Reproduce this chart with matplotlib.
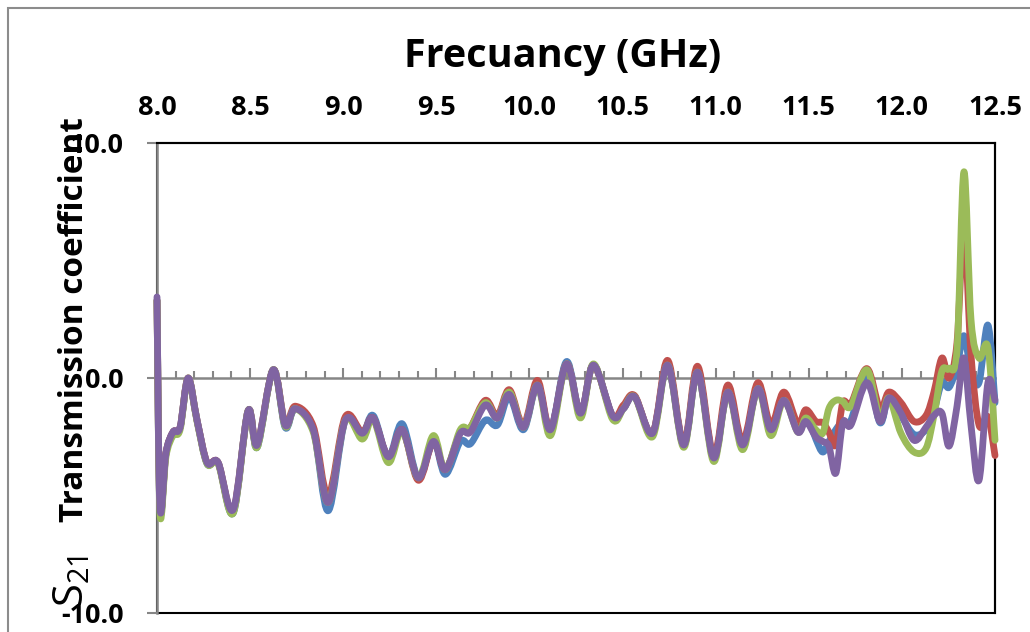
import numpy as np
import matplotlib
matplotlib.use("Agg")
import matplotlib.pyplot as plt
from matplotlib.path import Path
from matplotlib.patches import PathPatch, Rectangle
from matplotlib.ticker import MultipleLocator

plt.rcParams["font.family"] = ["Open Sans", "DejaVu Sans"]

# frequency points (GHz)
freq = [8.000, 8.016, 8.048, 8.086, 8.124, 8.167, 8.215, 8.269, 8.328, 8.409,
        8.489, 8.538, 8.624, 8.688, 8.742, 8.839, 8.919, 9.011, 9.102, 9.161,
        9.242, 9.317, 9.403, 9.484, 9.548, 9.629, 9.683, 9.763, 9.828, 9.892,
        9.968, 10.043, 10.113, 10.199, 10.274, 10.344, 10.446, 10.505, 10.565, 10.661,
        10.742, 10.828, 10.903, 10.989, 11.065, 11.145, 11.226, 11.296, 11.366, 11.441,
        11.484, 11.538, 11.575, 11.608, 11.645, 11.683, 11.726, 11.812, 11.882, 11.930,
        11.995, 12.065, 12.129, 12.172, 12.215, 12.253, 12.296, 12.333, 12.371, 12.414,
        12.462, 12.500]

s21_blue = [3.3, -5.6, -3.2, -2.3, -2.1, -0.05, -1.8, -3.65, -3.6, -5.75,
            -1.4, -2.95, 0.35, -2.1, -1.3, -2.2, -5.65, -1.8, -2.35, -1.6,
            -3.35, -1.95, -4.25, -2.7, -4.1, -2.7, -2.8, -1.8, -2.0, -0.8,
            -2.2, -0.3, -2.2, 0.7, -1.5, 0.55, -1.6, -1.3, -0.8, -2.35,
            0.55, -2.85, 0.25, -3.4, -0.6, -2.85, -0.45, -2.2, -0.7, -2.1,
            -1.5, -2.6, -3.15, -2.7, -2.2, -1.85, -1.8, 0.2, -1.9, -0.8,
            -1.6, -2.4, -2.2, -1.4, -0.2, -0.4, 0.5, 1.8, 0.3, -0.2,
            2.25, -1.05]

s21_red = [3.3, -5.5, -3.2, -2.3, -2.1, 0.0, -1.8, -3.6, -3.6, -5.65,
           -1.4, -2.85, 0.35, -1.95, -1.2, -2.05, -5.0, -1.65, -2.3, -1.7,
           -3.35, -2.2, -4.35, -2.7, -3.9, -2.3, -2.1, -0.95, -1.6, -0.5,
           -2.0, -0.1, -2.2, 0.6, -1.5, 0.55, -1.6, -1.15, -0.75, -2.35,
           0.75, -2.8, 0.5, -3.3, -0.3, -2.7, -0.2, -2.0, -0.6, -1.95,
           -1.35, -1.85, -1.9, -2.3, -2.85, -1.05, -1.1, 0.4, -1.3, -0.6,
           -1.05, -1.85, -1.6, -0.6, 0.85, 0.0, 1.5, 6.4, 1.0, -2.0,
           -1.65, -3.3]

s21_green = [3.3, -5.75, -3.35, -2.45, -2.2, 0.0, -1.85, -3.65, -3.65, -5.75,
             -1.4, -2.95, 0.35, -2.05, -1.3, -2.3, -5.3, -1.8, -2.6, -1.75,
             -3.6, -2.25, -4.25, -2.45, -3.9, -2.2, -2.1, -1.05, -1.7, -0.6,
             -2.1, -0.3, -2.45, 0.6, -1.7, 0.6, -1.75, -1.3, -0.8, -2.5,
             0.55, -2.95, 0.25, -3.55, -0.6, -3.05, -0.45, -2.45, -0.95, -2.3,
             -1.7, -2.2, -2.35, -1.3, -0.95, -1.0, -1.2, 0.35, -1.7, -0.85,
             -2.35, -3.15, -3.0, -1.6, 0.3, 0.4, 1.2, 8.77, 2.5, 0.85,
             1.3, -2.65]

s21_purple = [3.45, -5.5, -3.2, -2.3, -2.1, 0.0, -1.8, -3.6, -3.6, -5.6,
              -1.4, -2.85, 0.35, -2.0, -1.3, -2.2, -5.3, -1.8, -2.35, -1.7,
              -3.35, -2.2, -4.25, -2.7, -3.9, -2.35, -2.3, -1.15, -1.7, -0.7,
              -2.1, -0.3, -2.2, 0.6, -1.5, 0.55, -1.6, -1.3, -0.8, -2.35,
              0.55, -2.85, 0.25, -3.4, -0.6, -2.85, -0.45, -2.2, -0.95, -2.3,
              -1.85, -2.5, -2.7, -2.9, -4.05, -1.9, -2.0, -0.2, -1.85, -0.85,
              -1.5, -2.65, -2.1, -1.6, -1.5, -2.9, -1.2, 0.85, -2.0, -4.35,
              -0.2, -0.95]

series = [s21_blue, s21_red, s21_green, s21_purple]
colors = ["#4F81BD", "#C0504D", "#9BBB59", "#8064A2"]

x_ticks = [8.0, 8.5, 9.0, 9.5, 10.0, 10.5, 11.0, 11.5, 12.0, 12.5]
y_ticks = [-10, 0, 10]


def smooth_path(x, y):
    # excel style smoothed line (cubic bezier through every point)
    pts = np.column_stack([x, y])
    n = len(pts)
    verts = [pts[0]]
    codes = [Path.MOVETO]
    for i in range(n - 1):
        p0 = pts[i - 1] if i > 0 else pts[i]
        p1 = pts[i]
        p2 = pts[i + 1]
        p3 = pts[i + 2] if i + 2 < n else pts[i + 1]
        verts += [p1 + (p2 - p0) / 6, p2 - (p3 - p1) / 6, p2]
        codes += [Path.CURVE4] * 3
    return Path(verts, codes)


fig = plt.figure(figsize=(10.3, 6.32), dpi=100)
ax = fig.add_axes([157 / 1030, 19 / 632, 838 / 1030, 470 / 632])

for vals, c in zip(series, colors):
    ax.add_patch(PathPatch(smooth_path(freq, vals), fill=False, edgecolor=c, lw=4.9,
                           capstyle="round", joinstyle="round", zorder=3, clip_on=False))

ax.set_xlim(8, 12.5)
ax.set_ylim(-10, 10)

gray = "#868686"
ax.spines["bottom"].set_position(("data", 0))
ax.spines["bottom"].set_color(gray)
ax.spines["bottom"].set_linewidth(1.8)
ax.spines["left"].set_color(gray)
ax.spines["left"].set_linewidth(1.8)
for s in ["top", "right"]:
    ax.spines[s].set_color("black")
    ax.spines[s].set_linewidth(1.5)
ax.patch.set_edgecolor("black")
ax.patch.set_linewidth(1.5)

ax.set_xticks(x_ticks)
ax.set_xticklabels([f"{v:.1f}" for v in x_ticks], fontsize=19.5, fontweight="bold")
ax.xaxis.set_minor_locator(MultipleLocator(0.1))
ax.tick_params(axis="x", which="both", direction="in", bottom=True, top=False,
               labelbottom=False, labeltop=True, color=gray, width=1.5)
ax.tick_params(axis="x", which="major", length=7, pad=16)
ax.tick_params(axis="x", which="minor", length=5)

ax.set_yticks(y_ticks)
ax.set_yticklabels([f"{v:.1f}" for v in y_ticks], fontsize=19.5, fontweight="bold")
ax.tick_params(axis="y", direction="out", length=7, width=1.5, color=gray, pad=17)

fig.text(0.546, (632 - 57) / 632, "Frecuancy (GHz)", ha="center", va="center",
         fontsize=28.5, fontweight="bold")

fig.text(83 / 1030, (632 - 607) / 632, r"$\mathregular{S_{21}}$", rotation=90,
         rotation_mode="anchor", ha="left", va="baseline", fontsize=30)
fig.text(83 / 1030, (632 - 522) / 632, "Transmission coefficient", rotation=90,
         rotation_mode="anchor", ha="left", va="baseline", fontsize=24, fontweight="bold")

# chart area border
fig.add_artist(Rectangle((8 / 1030, -0.05), 1.1, (632 - 8) / 632 + 0.05,
                         transform=fig.transFigure, fill=False, edgecolor="#8c8c8c", lw=1.5))

fig.savefig("out.png", dpi=100)
